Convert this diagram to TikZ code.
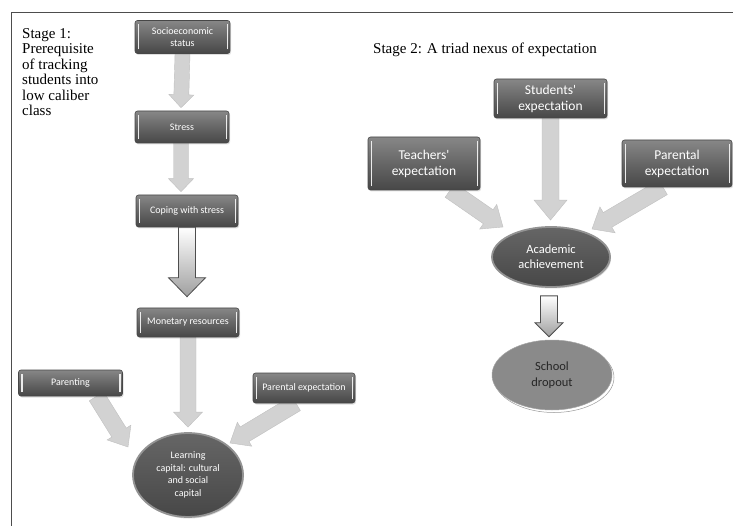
\documentclass[tikz,border=0pt]{standalone}
\usepackage{fontspec}
\setmainfont{Liberation Serif}
\newfontfamily\boxfont{Carlito}
\usetikzlibrary{arrows.meta, calc, shapes.geometric, shadows, backgrounds}
\definecolor{boxgray}{HTML}{666666}
\definecolor{boxdark}{HTML}{474747}
\definecolor{boxlight}{HTML}{878787}
\definecolor{rimgray}{HTML}{939393}
\definecolor{arrgray}{HTML}{D2D2D2}
\definecolor{arredge}{HTML}{C0C0C0}
\definecolor{dropgray}{HTML}{8A8A8A}
\definecolor{framegray}{HTML}{4D4D4D}
\definecolor{inkgray}{HTML}{262626}

% block arrow: [style]{from}{to}{shaft half width}{head half width}{head length}
\newcommand{\fatarrow}[6][]{%
  \coordinate (fa-h) at ($(#3)!#6!(#2)$);
  \path[#1] ($(#2)!#4!90:(#3)$) -- ($(fa-h)!#4!-90:(#2)$) -- ($(fa-h)!#5!-90:(#2)$)
    -- (#3) -- ($(fa-h)!#5!90:(#2)$) -- ($(fa-h)!#4!90:(#2)$) -- ($(#2)!#4!-90:(#3)$) -- cycle;
}

\begin{document}
\begin{tikzpicture}[
  x=1pt, y=-1pt,
  stagetext/.style={font=\fontsize{15}{15.5}\selectfont, text=black, inner sep=0pt},
  factor/.style={rectangle, rounded corners=2.5pt, draw=boxdark, line width=0.6pt,
    top color=boxlight, bottom color=boxdark, middle color=boxgray,
    text=white, align=center, inner sep=2pt,
    font=\boxfont\fontsize{10}{11.5}\selectfont,
    drop shadow={opacity=0.25, shadow xshift=1pt, shadow yshift=-1.5pt},
    path picture={
      \draw[white!85!gray, line width=1.2pt]
        ([xshift=3.5pt, yshift=4pt]path picture bounding box.south west) --
        ([xshift=3.5pt, yshift=-4pt]path picture bounding box.north west);
      \draw[white!85!gray, line width=1.2pt]
        ([xshift=-2.5pt, yshift=4pt]path picture bounding box.south east) --
        ([xshift=-2.5pt, yshift=-4pt]path picture bounding box.north east);
    }},
  bigfactor/.style={factor, font=\boxfont\fontsize{13.5}{16}\selectfont},
  outcome/.style={ellipse, draw=rimgray, line width=1.8pt, inner sep=0pt,
    top color=boxgray, bottom color=boxdark, text=white, align=center,
    drop shadow={opacity=0.3, shadow xshift=1pt, shadow yshift=-1.5pt}},
  dropout/.style={ellipse, draw=gray!70, line width=0.5pt, inner sep=0pt,
    fill=dropgray, text=inkgray, align=center,
    font=\boxfont\fontsize{12.5}{15.5}\selectfont,
    drop shadow={fill=white, draw=gray!80, opacity=1, shadow xshift=2pt, shadow yshift=-2.5pt}},
  lightarr/.style={fill=arrgray, draw=arredge, line width=0.4pt},
  hollowarr/.style={top color=white, bottom color=gray!75, draw=framegray, line width=0.8pt},
]
\useasboundingbox (0,0) rectangle (733,526);

% Frame
\draw[framegray, line width=1pt] (733,13) -- (11,13) -- (11,526);

% === Stage 1 ===
\node[stagetext, anchor=north west, align=left] (stage1) at (22,28)
  {Stage 1:\\Prerequisite\\of tracking\\students into\\low caliber\\class};

\node[factor, minimum width=95pt, minimum height=33pt] (ses) at (182.5,37) {Socioeconomic\\status};
\node[factor, minimum width=94pt, minimum height=32pt] (stress) at (182,127) {Stress};
\node[factor, minimum width=102pt, minimum height=32pt] (cope) at (187,211) {Coping with stress};
\node[factor, minimum width=102pt, minimum height=29pt] (money) at (188,322.5) {Monetary resources};
\node[factor, minimum width=104pt, minimum height=26pt] (parent) at (70.5,383) {Parenting};
\node[factor, minimum width=102pt, minimum height=30pt] (pexpa) at (304,388) {Parental expectation};
\node[outcome, minimum width=110pt, minimum height=84pt,
  font=\boxfont\fontsize{10}{12.5}\selectfont] (learn) at (188,475)
  {Learning\\capital: cultural\\and social\\capital};

% === Stage 2 ===
\node[stagetext, anchor=west] (stage2) at (373,50) {Stage 2: A triad nexus of expectation};

\node[bigfactor, minimum width=113pt, minimum height=39pt] (stud) at (550.5,98.5) {Students'\\expectation};
\node[bigfactor, minimum width=112pt, minimum height=53pt] (teach) at (424,163.5) {Teachers'\\expectation};
\node[bigfactor, minimum width=110pt, minimum height=47pt] (pexpb) at (677,163.5) {Parental\\expectation};
\node[outcome, minimum width=118pt, minimum height=60pt,
  font=\boxfont\fontsize{12.5}{15}\selectfont] (acad) at (551,257) {Academic\\achievement};
\node[dropout, minimum width=120pt, minimum height=70pt] (drop) at (552,375) {School\\dropout};

% Arrow ends
\coordinate (t1) at ($(stress.north)+(-1,-3)$);
\coordinate (s2) at ($(stress.south)+(-1,0)$);
\coordinate (t2) at ($(s2 |- cope.north)+(0,-3)$);
\coordinate (t3) at ($(cope.south |- money.north)+(0,-11)$);
\coordinate (t4) at ($(money.south |- learn.north)+(0,-5)$);
\coordinate (s5) at ($(parent.south)+(26,0)$);
\coordinate (t5) at ($(learn.center)+(-60,-28)$);
\coordinate (s6) at ($(pexpa.south)+(-8,0)$);
\coordinate (t6) at ($(learn.center)+(42,-32)$);
\coordinate (t7) at ($(stud.south |- acad.north)+(0,-6)$);
\coordinate (s8) at ($(teach.south)+(26,0)$);
\coordinate (t8) at ($(acad.center)+(-48,-30)$);
\coordinate (s9) at ($(pexpb.south)+(-14,0)$);
\coordinate (t9) at ($(acad.center)+(41,-28)$);
\coordinate (s10) at ($(acad.south)+(-2,8)$);
\coordinate (t10) at ($(s10 |- drop.north)+(0,-3)$);

% Arrows
\begin{scope}[on background layer]
\fatarrow[lightarr]{ses.south}{t1}{7.5pt}{12.5pt}{13pt}
\fatarrow[lightarr]{s2}{t2}{7.5pt}{12.5pt}{13pt}
\fatarrow[hollowarr]{cope.south}{t3}{8.5pt}{18.5pt}{19pt}
\fatarrow[lightarr]{money.south}{t4}{8pt}{14.5pt}{15pt}
\fatarrow[lightarr]{s5}{t5}{8.5pt}{14pt}{17pt}
\fatarrow[lightarr]{s6}{t6}{8.5pt}{14pt}{17pt}
\fatarrow[lightarr]{stud.south}{t7}{8.5pt}{16.5pt}{20pt}
\fatarrow[lightarr]{s8}{t8}{8.5pt}{15pt}{18pt}
\fatarrow[lightarr]{s9}{t9}{8.5pt}{15pt}{18pt}
\fatarrow[hollowarr]{s10}{t10}{8.5pt}{14pt}{14pt}
\end{scope}

\end{tikzpicture}
\end{document}
